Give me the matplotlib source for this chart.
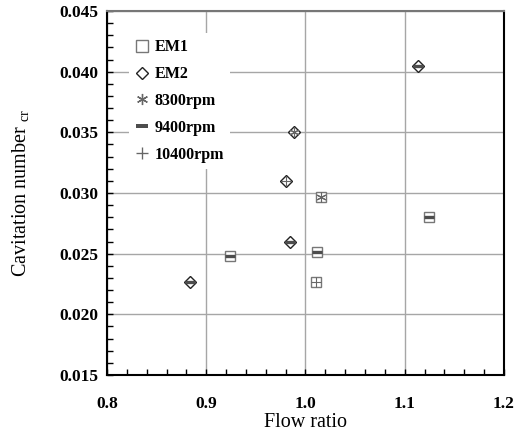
import matplotlib
matplotlib.use('Agg')
import matplotlib.pyplot as plt
from matplotlib.lines import Line2D

plt.rcParams['font.family'] = ['Liberation Serif', 'DejaVu Serif']
plt.rcParams['mathtext.fontset'] = 'custom'
plt.rcParams['mathtext.rm'] = 'Liberation Serif'

# Measured points (flow ratio vs. critical cavitation number)
em1_flow = [0.924, 1.012, 1.011, 1.016, 1.124]
em1_sigma = [0.0248, 0.0251, 0.0227, 0.0297, 0.0280]
em1_rpm = [9400, 9400, 10400, 8300, 9400]

em2_flow = [0.884, 0.984, 0.980, 0.988, 1.113]
em2_sigma = [0.0227, 0.0260, 0.0310, 0.0350, 0.0405]
em2_rpm = [9400, 9400, 10400, 8300, 9400]

speeds = [8300, 9400, 10400]
speed_labels = ['8300rpm', '9400rpm', '10400rpm']

x_ticks = [0.8, 0.9, 1.0, 1.1, 1.2]
y_ticks = [0.015, 0.020, 0.025, 0.030, 0.035, 0.040, 0.045]

# marker style for each rotational speed
speed_style = {
    8300: dict(marker=(6, 2, 0), ms=7, mew=0.8, color='#666666'),
    9400: dict(marker='_', ms=7, mew=2.4, color='#4d4d4d'),
    10400: dict(marker='+', ms=7, mew=0.8, color='#666666'),
}

fig = plt.figure(figsize=(5.15, 4.42), dpi=100)
ax = fig.add_axes([0.2078, 0.1516, 0.7708, 0.8235])

ax.plot(em1_flow, em1_sigma, linestyle='none', marker='s', ms=7,
        mfc='white', mec='#777777', mew=1.0, zorder=3)
ax.plot(em2_flow, em2_sigma, linestyle='none', marker='D', ms=6,
        mfc='white', mec='#222222', mew=1.0, zorder=3)

for flows, sigmas, rpms in [(em1_flow, em1_sigma, em1_rpm),
                            (em2_flow, em2_sigma, em2_rpm)]:
    for f, s, r in zip(flows, sigmas, rpms):
        st = speed_style[r]
        ax.plot([f], [s], linestyle='none', marker=st['marker'], ms=st['ms'],
                mew=st['mew'], color=st['color'], zorder=4)

handles = [
    Line2D([], [], linestyle='none', marker='s', ms=8, mfc='white',
           mec='#777777', mew=1.0),
    Line2D([], [], linestyle='none', marker='D', ms=6.5, mfc='white',
           mec='#222222', mew=1.0),
]
labels = ['EM1', 'EM2']
for sp, lab in zip(speeds, speed_labels):
    st = speed_style[sp]
    handles.append(Line2D([], [], linestyle='none', marker=st['marker'],
                          ms=8, mew=st['mew'] * 1.2, color=st['color']))
    labels.append(lab)

leg = ax.legend(handles, labels, loc='upper left',
                bbox_to_anchor=(0.055, 0.94), frameon=True, fancybox=False,
                framealpha=1.0, edgecolor='none', facecolor='white',
                prop=dict(weight='bold', size=11.5), handlelength=0.9,
                handletextpad=0.3, labelspacing=0.68, borderpad=0.4,
                borderaxespad=0)
leg.set_zorder(2.5)

ax.set_xlim(0.8, 1.2)
ax.set_ylim(0.015, 0.045)
ax.set_xticks(x_ticks)
ax.set_yticks(y_ticks)
ax.set_xticklabels(['%.1f' % v for v in x_ticks])
ax.set_yticklabels(['%.3f' % v for v in y_ticks])
ax.set_xticks([0.8 + 0.02 * i for i in range(21)], minor=True)
ax.set_yticks([0.015 + 0.001 * i for i in range(31)], minor=True)

ax.grid(True, which='major', color='#a6a6a6', linewidth=1.0, zorder=1)
ax.set_axisbelow(True)

ax.tick_params(which='both', direction='in', length=4, width=1.0,
               top=False, right=False)
ax.tick_params(axis='x', pad=15)
ax.tick_params(axis='y', pad=6)
for lab in ax.get_xticklabels() + ax.get_yticklabels():
    lab.set_fontweight('bold')
    lab.set_fontsize(12.5)

for side in ['left', 'bottom', 'right']:
    ax.spines[side].set_color('black')
    ax.spines[side].set_linewidth(1.5)
ax.spines['top'].set_color('#777777')
ax.spines['top'].set_linewidth(1.5)

ax.set_xlabel('Flow ratio', fontsize=14.5, labelpad=1)
ax.set_ylabel('Cavitation number $_{\\mathrm{cr}}$', fontsize=14.5,
              labelpad=20)

fig.savefig('out.png', dpi=100)
